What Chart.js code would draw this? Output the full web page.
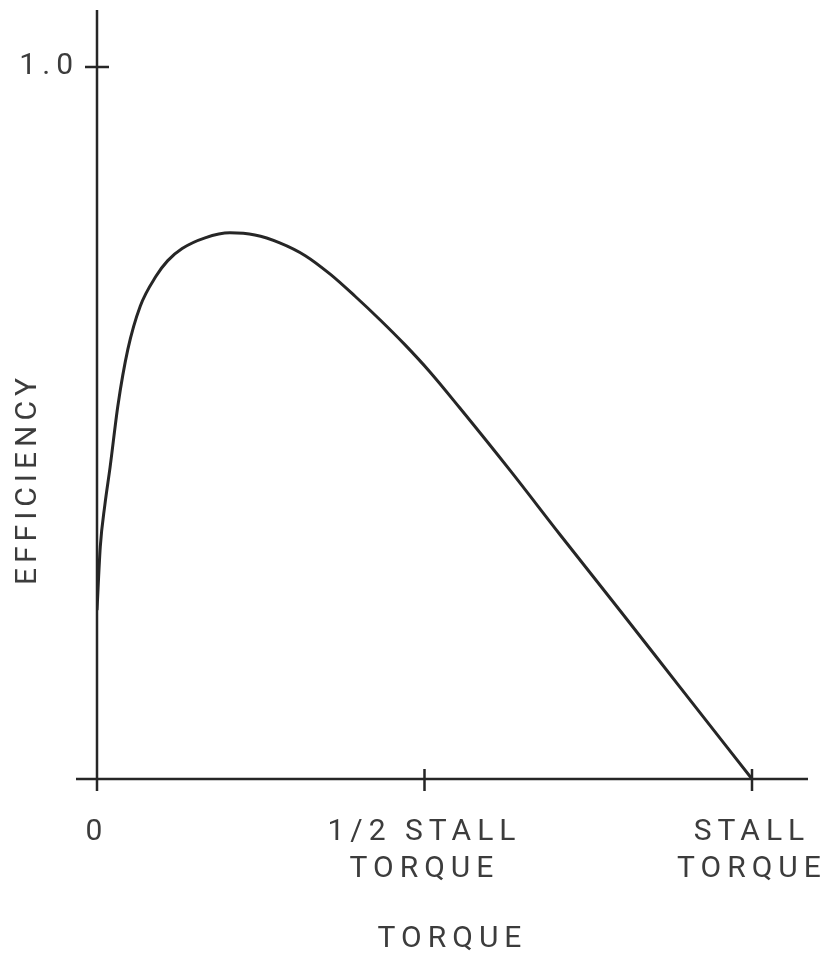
<!DOCTYPE html>
<html lang="en">
  <head>
    <meta charset="UTF-8">
    <title>Efficiency vs Torque</title>
    <script src="https://cdn.jsdelivr.net/npm/chart.js@4.4.0/dist/chart.umd.min.js"></script>
    <style>
      body { margin: 0; background: #fff; }
    </style>
  </head>
  <body>
    <canvas id="eff_chart" width="825" height="958"></canvas>
    <script>
      // fraction of stall torque / efficiency
      const torque = [0, 0.005, 0.012, 0.020, 0.032, 0.047, 0.066, 0.090, 0.108, 0.130, 0.165, 0.203, 0.241, 0.279, 0.318, 0.356, 0.394, 0.432, 0.470, 0.508, 0.554, 0.631, 0.707, 0.799, 0.890, 1.0];
      const efficiency = [0.237, 0.326, 0.385, 0.438, 0.525, 0.603, 0.664, 0.706, 0.728, 0.745, 0.760, 0.767, 0.764, 0.753, 0.735, 0.709, 0.678, 0.645, 0.610, 0.572, 0.521, 0.433, 0.343, 0.236, 0.129, 0];
      const xTickValues = [0, 0.5, 1.0];
      const xTickLabels = [['0'], ['1/2 STALL', 'TORQUE'], ['STALL', 'TORQUE']];
      const yTickValues = [1.0];
      const yTickLabels = ['1.0'];

      const ink = '#262626';
      const textInk = '#3c3c3c';
      const font = { family: 'Roboto, "DejaVu Sans", sans-serif', size: 30, weight: 400, lineHeight: 1.23 };

      // axes cross each other and tick marks cross the axis lines
      const axisMarks = {
        id: 'axisMarks',
        beforeDraw(chart) {
          // wide lettering like the stencil text of the original
          chart.ctx.letterSpacing = '6px';
        },
        afterDraw(chart) {
          const ctx = chart.ctx;
          const x = chart.scales.x, y = chart.scales.y;
          const x0 = x.getPixelForValue(0), y0 = y.getPixelForValue(0);
          ctx.save();
          ctx.strokeStyle = ink;
          ctx.lineWidth = 2.5;
          ctx.beginPath();
          ctx.moveTo(x0, y.top);
          ctx.lineTo(x0, y0 + 12);
          ctx.moveTo(x0 - 21, y0);
          ctx.lineTo(x.right, y0);
          x.ticks.forEach(t => {
            const px = x.getPixelForValue(t.value);
            ctx.moveTo(px, y0 - 10);
            ctx.lineTo(px, y0 + 12);
          });
          y.ticks.forEach(t => {
            const py = y.getPixelForValue(t.value);
            ctx.moveTo(x0 - 12, py);
            ctx.lineTo(x0 + 12, py);
          });
          ctx.stroke();

          // y axis title sits lower than the middle of the axis
          ctx.translate(28, 482);
          ctx.rotate(-Math.PI / 2);
          ctx.fillStyle = textInk;
          ctx.font = font.weight + ' ' + font.size + 'px ' + font.family;
          ctx.letterSpacing = '5px';
          ctx.textAlign = 'center';
          ctx.textBaseline = 'middle';
          ctx.fillText('EFFICIENCY', 3, 0);
          ctx.restore();
        }
      };

      const noPad = (s) => { s.paddingTop = 0; s.paddingBottom = 0; s.paddingLeft = 0; s.paddingRight = 0; };

      new Chart(document.getElementById('eff_chart').getContext('2d'), {
        type: 'line',
        data: {
          datasets: [{
            data: torque.map((t, i) => ({ x: t, y: efficiency[i] })),
            borderColor: ink,
            borderWidth: 3,
            pointRadius: 0,
            cubicInterpolationMode: 'monotone',
            fill: false
          }]
        },
        options: {
          responsive: false,
          animation: false,
          layout: { autoPadding: false, padding: { top: 10, right: 17, left: 0, bottom: 0 } },
          plugins: { legend: { display: false }, tooltip: { enabled: false } },
          scales: {
            x: {
              type: 'linear',
              min: 0,
              max: 1.0855,
              grid: { display: false },
              border: { display: false },
              afterFit: (s) => { s.height = 179; noPad(s); },
              afterBuildTicks: (s) => { s.ticks = xTickValues.map(v => ({ value: v })); },
              ticks: {
                padding: 27,
                maxRotation: 0,
                color: textInk,
                font: font,
                callback: (v) => xTickLabels[xTickValues.indexOf(v)]
              },
              title: {
                display: true,
                text: 'TORQUE',
                color: textInk,
                font: font,
                padding: { top: 0, bottom: 0 }
              }
            },
            y: {
              type: 'linear',
              min: 0,
              max: 1.08,
              grid: { display: false },
              border: { display: false },
              afterFit: (s) => { s.width = 97; noPad(s); },
              afterBuildTicks: (s) => { s.ticks = yTickValues.map(v => ({ value: v })); },
              ticks: {
                padding: 10,
                color: textInk,
                font: font,
                callback: (v) => yTickLabels[yTickValues.indexOf(v)]
              }
            }
          }
        },
        plugins: [axisMarks]
      });
    </script>
  </body>
</html>
